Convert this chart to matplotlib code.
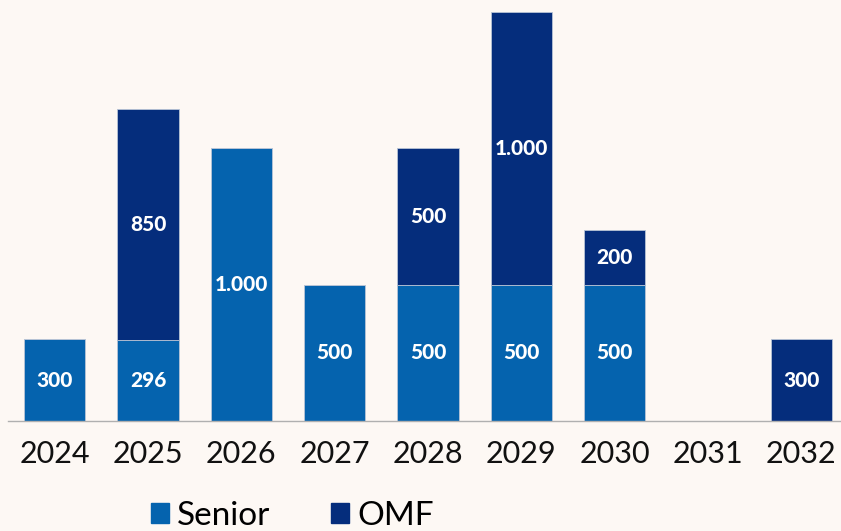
import numpy as np
import matplotlib.pyplot as plt
from matplotlib.patches import Patch

# Data
years = ["2024", "2025", "2026", "2027", "2028", "2029", "2030", "2031", "2032"]
senior = [300, 296, 1000, 500, 500, 500, 500, 0, 0]
omf = [0, 850, 0, 0, 500, 1000, 200, 0, 300]

bg = "#FDF8F4"
c_senior = "#0563AE"
c_omf = "#052D7C"


def fmt(v):
    # thousands separator as "."
    return f"{v:,.0f}".replace(",", ".")


fig = plt.figure(figsize=(8.41, 5.31), dpi=100, facecolor=bg)
ax = fig.add_axes([8 / 841, 110 / 531, 833 / 841, 409 / 531])
ax.set_facecolor(bg)

x = np.arange(len(years))
w = 0.66
ax.bar(x, senior, w, color=c_senior, edgecolor="#B8C4D6", linewidth=0.6)
ax.bar(x, omf, w, bottom=senior, color=c_omf, edgecolor="#B8C4D6", linewidth=0.6)

for i in range(len(years)):
    if senior[i] > 0:
        ax.text(x[i], senior[i] / 2, fmt(senior[i]), ha="center", va="center",
                color="white", fontsize=15, fontweight="black", family="Lato")
    if omf[i] > 0:
        ax.text(x[i], senior[i] + omf[i] / 2, fmt(omf[i]), ha="center", va="center",
                color="white", fontsize=15, fontweight="black", family="Lato")

ax.set_xlim(-0.5, len(years) - 0.5 - 7 / 93.4)
ax.set_ylim(0, 1500)
ax.set_yticks([])
for s in ["top", "right", "left"]:
    ax.spines[s].set_visible(False)
ax.spines["bottom"].set_color("#B0B0B0")
ax.spines["bottom"].set_linewidth(1)
ax.set_xticks(x)
ax.set_xticklabels(years, fontsize=22, family="Lato", color="#111111")
ax.tick_params(axis="x", length=0, pad=14)

handles = [Patch(color=c_senior, label="Senior"), Patch(color=c_omf, label="OMF")]
fig.legend(handles=handles, loc="center left", bbox_to_anchor=(134 / 841, 15 / 531),
           ncol=2, frameon=False, handlelength=0.55, handleheight=0.55,
           handletextpad=0.25, columnspacing=1.8, borderpad=0,
           prop={"family": "Lato", "size": 24})

fig.savefig("out.png", dpi=100, facecolor=bg)
